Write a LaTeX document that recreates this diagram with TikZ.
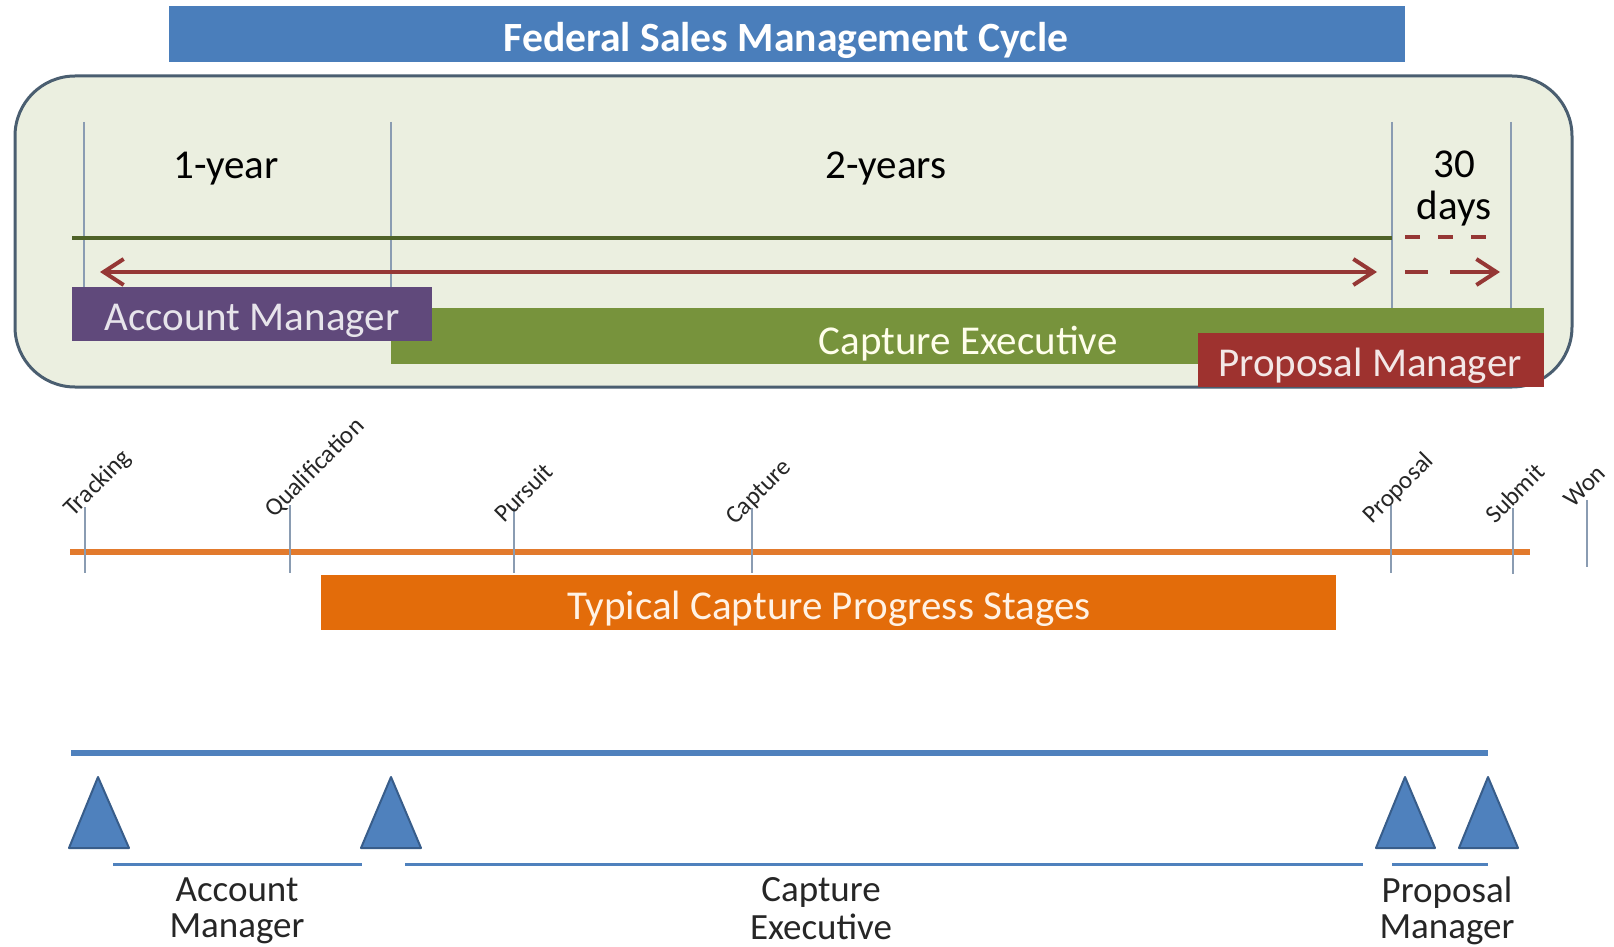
\documentclass[tikz,border=0pt]{standalone}
\usepackage{fontspec}
\setmainfont{Carlito}
\usetikzlibrary{arrows.meta}

\definecolor{titleblue}{RGB}{74,126,187}
\definecolor{panelfill}{RGB}{235,239,224}
\definecolor{paneledge}{RGB}{74,94,112}
\definecolor{tickgray}{RGB}{138,156,178}
\definecolor{olive}{RGB}{79,98,40}
\definecolor{darkred}{RGB}{149,55,53}
\definecolor{ampurple}{RGB}{96,73,123}
\definecolor{cegreen}{RGB}{119,147,60}
\definecolor{pmred}{RGB}{158,50,47}
\definecolor{stageorange}{RGB}{227,108,10}
\definecolor{lineorange}{RGB}{226,122,45}
\definecolor{tlblue}{RGB}{79,129,189}
\definecolor{tledge}{RGB}{56,93,138}

\begin{document}
\begin{tikzpicture}[x=0.5pt, y=-0.5pt,
  big/.style={font=\fontsize{20.5}{21}\selectfont},
  stage/.style={rotate=45, anchor=base west, inner sep=0pt, text=black!85,
    font=\fontsize{12.5}{14}\selectfont},
  role/.style={align=center, anchor=north, inner sep=0pt, text=black!85,
    font=\fontsize{18.5}{18}\selectfont},
  tick/.style={draw=tickgray, line width=1pt},
  tri/.style={fill=tlblue, draw=tledge, line width=1pt, line join=round},
  >={Straight Barb[length=10pt, width=13pt]}]

  \useasboundingbox (0,0) rectangle (1614,947);

  % 标题栏
  \fill[titleblue] (169,6) rectangle (1405,62);
  \node[text=white, font=\bfseries\fontsize{20.8}{22}\selectfont] (title) at (786,40) {Federal Sales Management Cycle};

  % 外框
  \draw[draw=paneledge, line width=1.5pt, fill=panelfill, rounded corners=30pt] (15,76) rectangle (1572,387);

  % 时间刻度线
  \draw[tick] (84,122) -- (84,287);
  \draw[tick] (391,122) -- (391,287);
  \draw[tick] (1392,122) -- (1392,308);
  \draw[tick] (1511,122) -- (1511,308);

  \node[big] (year1) at (226,169) {1-year};
  \node[big] (year2) at (886,169) {2-years};
  \node[big, align=center] (days30) at (1454,189) {30\\days};

  % 时间轴
  \coordinate (gL) at (72,238);
  \coordinate (gR) at (1392,238);
  \coordinate (dL) at (1405,237);
  \coordinate (dR) at (1489,237);
  \coordinate (aL) at (100,272);
  \coordinate (aR) at (1377,272);
  \coordinate (bL) at (1405,272);
  \coordinate (bR) at (1500,272);
  \draw[olive, line width=2pt] (gL) -- (gR);
  \draw[darkred, line width=2pt, dash pattern=on 7.5pt off 9pt] (dL) -- (dR);
  \draw[darkred, line width=2pt, <->] (aL) -- (aR);
  \draw[darkred, line width=2pt, ->, dash pattern=on 11.5pt off 11pt on 40pt off 0pt] (bL) -- (bR);

  % 角色条
  \fill[cegreen] (391,308) rectangle (1544,364);
  \fill[ampurple] (72,287) rectangle (432,341);
  \fill[pmred] (1198,333) rectangle (1544,387);
  \node[big, text=ampurple!15] (am) at (252,321) {Account Manager};
  \node[big, text=yellow!8] (ce) at (968,344) {Capture Executive};
  \node[big, text=pmred!12] (pm) at (1370,366) {Proposal Manager};

  % 阶段刻度
  \draw[lineorange, line width=3.25pt] (70,552) -- (1530,552);
  \draw[tick] (85,507) -- (85,573);
  \draw[tick] (290,505) -- (290,573);
  \draw[tick] (514,508) -- (514,573);
  \draw[tick] (752,508) -- (752,573);
  \draw[tick] (1391,505) -- (1391,573);
  \draw[tick] (1513,508) -- (1513,574);
  \draw[tick] (1587,500) -- (1587,567);

  \node[stage] (tracking) at (73,518) {Tracking};
  \node[stage] (qualify) at (274,519) {Qualification};
  \node[stage] (pursuit) at (504,524) {Pursuit};
  \node[stage] (capture) at (735,526) {Capture};
  \node[stage] (proposal) at (1372,525) {Proposal};
  \node[stage] (submit) at (1495,525) {Submit};
  \node[stage] (won) at (1573,509) {Won};

  \fill[stageorange] (321,575) rectangle (1336,630);
  \node[big, text=orange!10] (stages) at (829,609) {Typical Capture Progress Stages};

  % 底部时间线
  \draw[tlblue, line width=2.75pt] (71,753) -- (1488,753);
  \filldraw[tri] (69,848) -- (98,777) -- (129,848) -- cycle;
  \filldraw[tri] (361,848) -- (391,777) -- (421,848) -- cycle;
  \filldraw[tri] (1376,848) -- (1405,777) -- (1435,848) -- cycle;
  \filldraw[tri] (1459,848) -- (1488,777) -- (1518,848) -- cycle;
  \draw[tlblue, line width=1.5pt] (113,864) -- (362,864);
  \draw[tlblue, line width=1.5pt] (405,864) -- (1363,864);
  \draw[tlblue, line width=1.5pt] (1392,864) -- (1488,864);

  \node[role] (amlbl) at (237,876) {\strut Account\\Manager};
  \node[role] (celbl) at (821,876) {\strut Capture\\Executive};
  \node[role] (pmlbl) at (1447,876) {\strut Proposal\\Manager};
\end{tikzpicture}
\end{document}
